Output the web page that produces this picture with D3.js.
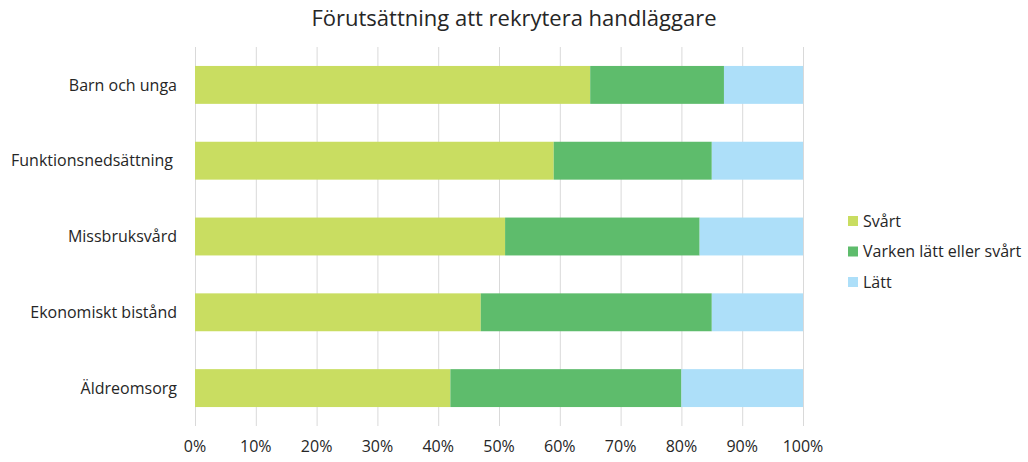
<!DOCTYPE html>
<html>
<head>
<meta charset="utf-8">
<script src="https://cdn.jsdelivr.net/npm/d3@7"></script>
<style>
  body { margin: 0; background: #fff; }
  text { font-family: "Open Sans", "Noto Sans", sans-serif; fill: #262626; }
</style>
</head>
<body>
<div id="chart"></div>
<script>
var categories = ["Barn och unga", "Funktionsnedsättning", "Missbruksvård", "Ekonomiskt bistånd", "Äldreomsorg"];
var series = ["Svårt", "Varken lätt eller svårt", "Lätt"];
var svart = [65, 59, 51, 47, 42];
var varken = [22, 26, 32, 38, 38];
var latt = [13, 15, 17, 15, 20];
var ticks = [0, 10, 20, 30, 40, 50, 60, 70, 80, 90, 100];
var colors = ["#c9dd61", "#5ebc6c", "#addff9"];

var width = 1028, height = 462;
var margin = { top: 47, right: 225, bottom: 36, left: 195 };

var rows = categories.map(function (c, i) {
    return { cat: c, "Svårt": svart[i], "Varken lätt eller svårt": varken[i], "Lätt": latt[i] };
});
var stacked = d3.stack().keys(series)(rows);

var svg = d3.select("#chart").append("svg")
    .attr("width", width)
    .attr("height", height);

var x = d3.scaleLinear().domain([0, 100]).range([margin.left, width - margin.right]);
var y = d3.scaleBand().domain(categories).range([margin.top, height - margin.bottom]).paddingInner(0.5).paddingOuter(0.25);
var color = d3.scaleOrdinal().domain(series).range(colors);

svg.append("text")
    .attr("x", 514)
    .attr("y", 26)
    .attr("text-anchor", "middle")
    .style("font-size", "22px")
    .text("Förutsättning att rekrytera handläggare");

// gridlines
svg.append("g").selectAll("line")
    .data(ticks)
    .enter().append("line")
    .attr("x1", function (d) { return x(d) + 0.5; })
    .attr("x2", function (d) { return x(d) + 0.5; })
    .attr("y1", margin.top)
    .attr("y2", height - margin.bottom)
    .attr("stroke", "#d9d9d9")
    .attr("stroke-width", 1);

svg.append("g").selectAll("g")
    .data(stacked)
    .enter().append("g")
    .attr("fill", function (d) { return color(d.key); })
    .selectAll("rect")
    .data(function (d) { return d; })
    .enter().append("rect")
    .attr("x", function (d) { return x(d[0]); })
    .attr("width", function (d) { return x(d[1]) - x(d[0]); })
    .attr("y", function (d) { return y(d.data.cat); })
    .attr("height", y.bandwidth());

// category labels
svg.append("g").selectAll("text")
    .data(categories)
    .enter().append("text")
    .attr("x", function (d, i) { return i == 1 ? 173 : 177; })
    .attr("y", function (d) { return y(d) + y.bandwidth() / 2; })
    .attr("dy", "0.35em")
    .attr("text-anchor", "end")
    .style("font-size", "16px")
    .text(function (d) { return d; });

// x tick labels
svg.append("g").selectAll("text")
    .data(ticks)
    .enter().append("text")
    .attr("x", function (d) { return x(d); })
    .attr("y", 452)
    .attr("text-anchor", "middle")
    .style("font-size", "16px")
    .text(function (d) { return d + "%"; });

// legend
var legend = svg.append("g").attr("transform", "translate(848,216)");
var li = legend.selectAll("g")
    .data(series)
    .enter().append("g")
    .attr("transform", function (d, i) { return "translate(0," + (i * 30.5) + ")"; });
li.append("rect")
    .attr("width", 10)
    .attr("height", 10)
    .attr("fill", function (d) { return color(d); });
li.append("text")
    .attr("x", 15)
    .attr("y", 5)
    .attr("dy", "0.35em")
    .style("font-size", "16px")
    .text(function (d) { return d; });
</script>
</body>
</html>
